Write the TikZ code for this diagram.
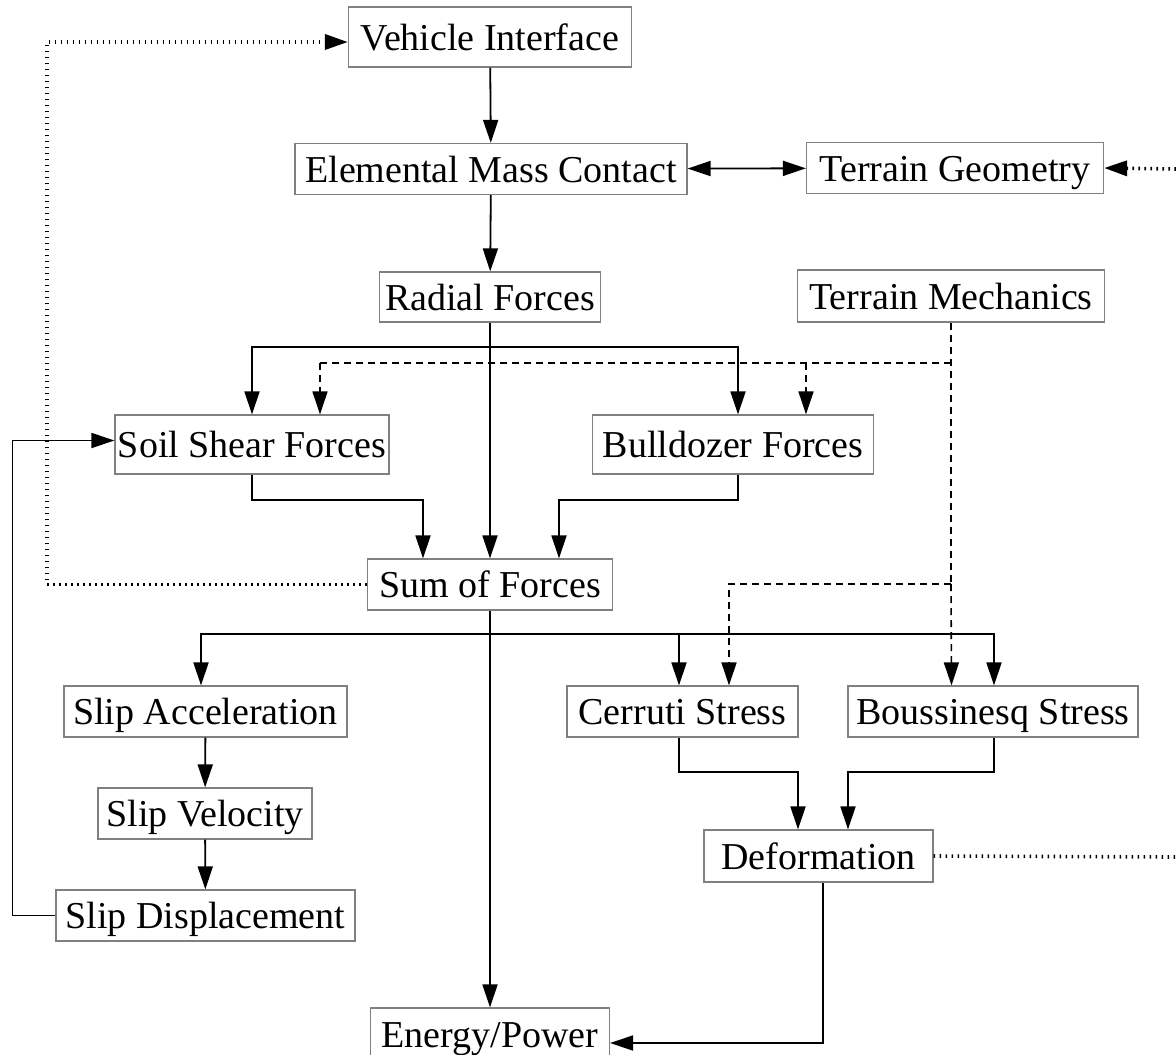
\documentclass[tikz,border=0pt]{standalone}
\usepackage{fontspec}
\setmainfont{Liberation Serif}
\usetikzlibrary{arrows.meta}
\tikzstyle{block}=[draw=black!50, line width=1.2pt, inner sep=0pt, minimum height=51pt, text height=30pt, text depth=4pt, font=\fontsize{38}{45}\selectfont]
\tikzstyle{arrow}=[draw, line width=1.8pt, -{Triangle[length=23pt,width=15pt]}]
\tikzstyle{biarrow}=[draw, line width=1.8pt, {Triangle[length=23pt,width=15pt]}-{Triangle[length=23pt,width=15pt]}]
\tikzstyle{mech}=[dash pattern=on 7pt off 5pt, line width=1.6pt]
\tikzstyle{loop}=[dash pattern=on 1.6pt off 4.4pt, line width=3.6pt]

\begin{document}
\begin{tikzpicture}[x=1pt, y=-1pt]
\useasboundingbox (0,0) rectangle (1176,1055);
% boxes
\node[block, minimum width=283pt, minimum height=60pt] (vi) at (490,37) {Vehicle Interface};
\node[block, minimum width=392pt] (emc) at (491,169) {Elemental Mass Contact};
\node[block, minimum width=297pt] (tg) at (955,168) {Terrain Geometry};
\node[block, minimum width=221pt, minimum height=50pt] (rf) at (490,297) {Radial Forces};
\node[block, minimum width=307pt, minimum height=52pt] (tm) at (951,296) {Terrain Mechanics};
\node[block, minimum width=274pt, minimum height=59pt] (ssf) at (252,444.5) {Soil Shear Forces};
\node[block, minimum width=281pt, minimum height=59pt] (bf) at (733,444.5) {Bulldozer Forces};
\node[block, minimum width=245pt] (sof) at (490,584.5) {Sum of Forces};
\node[block, minimum width=283pt] (sacc) at (205.5,711.5) {Slip Acceleration};
\node[block, minimum width=231pt] (cs) at (682.5,711.5) {Cerruti Stress};
\node[block, minimum width=290pt] (bs) at (993,711.5) {Boussinesq Stress};
\node[block, minimum width=214pt] (svel) at (205,813.5) {Slip Velocity};
\node[block, minimum width=229pt, minimum height=52pt] (def) at (818.5,856) {Deformation};
\node[block, minimum width=299pt] (sdisp) at (205.5,915.5) {Slip Displacement};
\node[block, minimum width=239pt, minimum height=52pt] (ep) at (490,1034) {Energy/Power};
% free ends and junctions
\coordinate (tgin) at (1176,169);
\coordinate (defout) at (1176,857);
\coordinate (rsplit) at (490,347);
\coordinate (ssplit) at (490,634);
\coordinate (mtop) at (951,363);
\coordinate (mlow) at (951,584);
% solid flow
\path[arrow] (vi) -- (emc);
\path[biarrow] (emc) -- (tg);
\path[arrow] (emc) -- (rf);
\path[arrow] (rf) -- (sof);
\path[arrow] (rsplit) -| (ssf.north);
\path[arrow] (rsplit) -| ([xshift=5pt]bf.north);
\path[arrow] (ssf.south) -- ++(0,25) -| ([xshift=-67pt]sof.north);
\path[arrow] ([xshift=5pt]bf.south) -- ++(0,25) -| ([xshift=69pt]sof.north);
\path[arrow] (sof) -- (ep);
\path[arrow] (ssplit) -| ([xshift=-4.5pt]sacc.north);
\path[arrow] (ssplit) -| ([xshift=-3.5pt]cs.north);
\path[arrow] (ssplit) -| ([xshift=1pt]bs.north);
\path[arrow] (sacc) -- (svel);
\path[arrow] (svel) -- (sdisp);
\path[arrow] (sdisp.west) -- ++(-43,0) |- ([yshift=4pt]ssf.west);
\path[arrow] ([xshift=-3.5pt]cs.south) -- ++(0,34) -| ([xshift=-20.5pt]def.north);
\path[arrow] ([xshift=1pt]bs.south) -- ++(0,34) -| ([xshift=29.5pt]def.north);
\path[arrow] ([xshift=4.5pt]def.south) |- ([yshift=-9pt]ep.east);
% terrain mechanics (dashed)
\draw[mech] (tm.south) -- (mlow);
\draw[mech] (mtop) -- ([xshift=68pt]ssf.north |- mtop);
\path[arrow, mech] ([xshift=68pt]ssf.north |- mtop) -- ([xshift=68pt]ssf.north);
\path[arrow, mech] ([xshift=73pt]bf.north |- mtop) -- ([xshift=73pt]bf.north);
\path[arrow, mech] (mlow) -| ([xshift=46.5pt]cs.north);
\path[arrow, mech] (mlow) -- ([xshift=-41.5pt]bs.north);
% vehicle and terrain loops (dotted)
\path[arrow, loop] (sof.west) -- (47,584.5) |- ([yshift=-5pt]vi.west);
\path[arrow, loop] (tgin) -- (tg.east);
\draw[loop] (def.east) -- (defout);
\end{tikzpicture}
\end{document}
